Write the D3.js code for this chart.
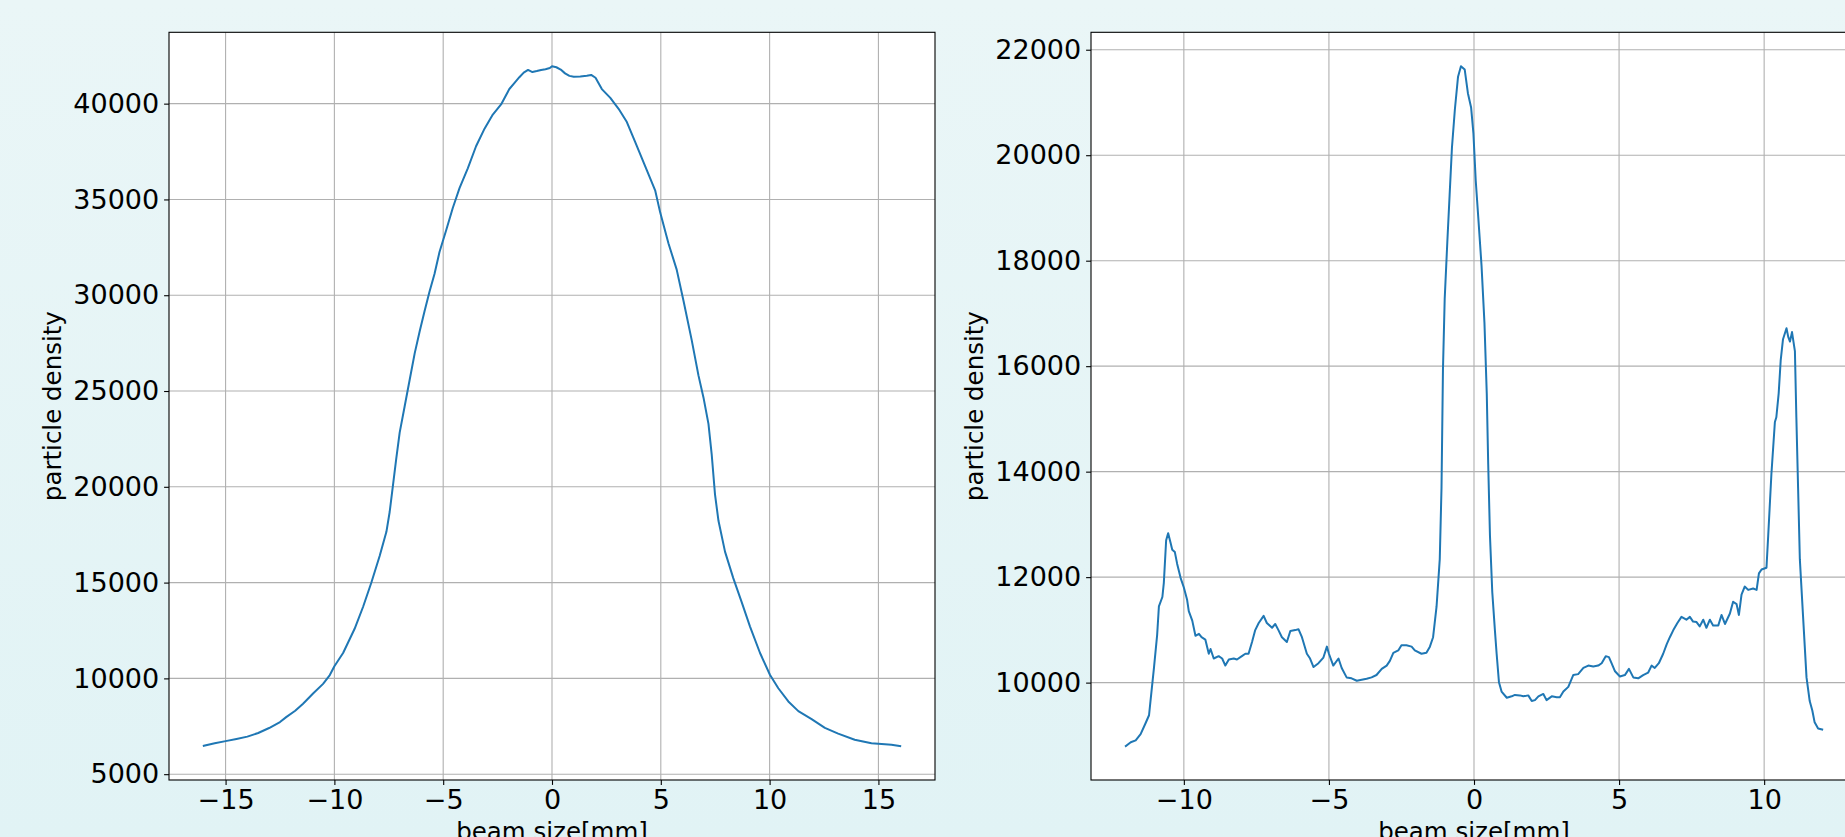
<!DOCTYPE html>
<html>
<head>
<meta charset="utf-8">
<script src="https://cdn.jsdelivr.net/npm/d3@7"></script>
<style>
  html, body { margin: 0; padding: 0; overflow: hidden; }
  svg { display: block; }
  text { font-family: "DejaVu Sans", sans-serif; fill: #000; }
</style>
</head>
<body>
<svg id="chart" width="1845" height="837"></svg>
<script>
// Transverse profile of the beam before shaping (position in mm, particle density)
const gaussX = [-16.0,-15.5,-15.0,-14.5,-14.0,-13.5,-13.0,-12.5,-12.2,-11.8,-11.44,-10.98,-10.52,-10.21,-10.0,-9.6,-9.07,-8.68,-8.3,-7.92,-7.61,-7.46,-7.31,-7.16,-7.0,-6.77,-6.54,-6.31,-6.08,-5.86,-5.63,-5.4,-5.17,-4.86,-4.56,-4.25,-3.87,-3.49,-3.1,-2.72,-2.34,-1.96,-1.75,-1.5,-1.3,-1.1,-0.9,-0.7,-0.5,-0.3,-0.1,0.0,0.2,0.4,0.6,0.8,1.0,1.3,1.6,1.8,2.0,2.29,2.68,3.06,3.44,3.82,4.28,4.74,4.97,5.35,5.73,6.04,6.42,6.73,6.96,7.19,7.34,7.49,7.65,7.95,8.33,8.72,9.1,9.56,10.02,10.4,10.86,11.32,11.93,12.54,13.15,13.91,14.68,15.3,15.6,16.0];
const gaussY = [6480,6610,6725,6840,6960,7150,7410,7720,7990,8310,8680,9210,9715,10175,10635,11325,12590,13740,15005,16385,17650,18685,20065,21445,22825,24205,25585,26965,28115,29150,30185,31105,32255,33405,34555,35590,36625,37775,38695,39430,39960,40765,41050,41380,41620,41760,41650,41700,41760,41800,41860,41950,41900,41780,41580,41450,41400,41420,41460,41500,41350,40759,40300,39730,39040,38005,36740,35475,34325,32715,31335,29725,27655,25815,24665,23285,21675,19605,18225,16615,15235,13970,12705,11325,10175,9485,8795,8290,7875,7415,7116,6794,6610,6560,6540,6470];

// Transverse profile after shaping: central spike with edge peaks
const hollowX = [-12.0,-11.83,-11.66,-11.49,-11.32,-11.2,-11.15,-11.03,-10.92,-10.86,-10.74,-10.69,-10.61,-10.54,-10.46,-10.4,-10.31,-10.23,-10.11,-10.0,-9.89,-9.83,-9.71,-9.6,-9.48,-9.39,-9.26,-9.14,-9.08,-8.97,-8.8,-8.68,-8.57,-8.45,-8.28,-8.17,-8.0,-7.88,-7.77,-7.65,-7.54,-7.42,-7.25,-7.14,-6.96,-6.85,-6.74,-6.62,-6.45,-6.33,-6.16,-6.05,-5.93,-5.76,-5.65,-5.53,-5.36,-5.19,-5.07,-5.0,-4.85,-4.67,-4.56,-4.39,-4.22,-4.04,-3.87,-3.7,-3.53,-3.36,-3.18,-3.01,-2.9,-2.78,-2.61,-2.5,-2.33,-2.15,-2.04,-1.81,-1.64,-1.52,-1.41,-1.29,-1.18,-1.12,-1.07,-1.01,-0.92,-0.84,-0.76,-0.66,-0.55,-0.45,-0.32,-0.21,-0.1,-0.02,0.06,0.15,0.26,0.36,0.44,0.49,0.55,0.63,0.72,0.78,0.86,0.95,1.13,1.3,1.41,1.58,1.7,1.87,1.99,2.1,2.22,2.39,2.5,2.68,2.85,2.96,3.08,3.25,3.42,3.59,3.77,3.94,4.11,4.28,4.4,4.54,4.65,4.74,4.86,5.03,5.2,5.34,5.49,5.66,5.83,6.0,6.12,6.23,6.37,6.52,6.64,6.75,6.87,7.01,7.15,7.32,7.44,7.55,7.67,7.78,7.9,8.01,8.13,8.24,8.42,8.53,8.65,8.82,8.93,9.05,9.13,9.22,9.33,9.45,9.62,9.74,9.82,9.91,10.08,10.14,10.25,10.37,10.42,10.5,10.57,10.65,10.77,10.83,10.89,10.96,11.06,11.11,11.17,11.23,11.34,11.46,11.57,11.66,11.74,11.86,12.0];
const hollowY = [8798,8870,8906,9022,9229,9381,9650,10278,10906,11444,11623,11892,12700,12834,12655,12520,12475,12251,11982,11803,11578,11354,11175,10888,10924,10861,10816,10547,10637,10457,10502,10457,10323,10439,10457,10439,10502,10547,10547,10771,10996,11130,11265,11130,11040,11112,10996,10861,10771,10978,10996,11013,10861,10547,10457,10296,10368,10475,10682,10547,10323,10457,10278,10099,10081,10036,10054,10072,10099,10144,10260,10323,10413,10565,10610,10709,10709,10682,10610,10547,10565,10682,10861,11444,12341,13686,15928,17274,18350,19247,20144,20862,21489,21686,21624,21175,20906,20413,19516,18798,17902,16825,15480,14135,12789,11713,10996,10547,10009,9830,9713,9740,9767,9758,9740,9758,9650,9668,9740,9785,9668,9740,9722,9722,9830,9919,10143,10161,10278,10323,10305,10323,10368,10502,10484,10368,10215,10117,10143,10260,10099,10081,10143,10188,10323,10278,10368,10547,10726,10861,10996,11130,11247,11193,11247,11157,11148,11067,11193,11040,11193,11085,11085,11283,11112,11310,11534,11489,11283,11668,11821,11758,11785,11758,12072,12144,12179,12789,13955,14942,15032,15480,16108,16511,16718,16556,16467,16646,16287,15032,13686,12341,11265,10099,9650,9471,9247,9130,9112];

const gaussXTicks = [-15, -10, -5, 0, 5, 10, 15];
const gaussYTicks = [5000, 10000, 15000, 20000, 25000, 30000, 35000, 40000];
const hollowXTicks = [-10, -5, 0, 5, 10];
const hollowYTicks = [10000, 12000, 14000, 16000, 18000, 20000, 22000];

const xTitle = "beam size[mm]";
const yTitle = "particle density";

const svg = d3.select("#chart");

// figure background: pale cyan wash
const defs = svg.append("defs");
const bg = defs.append("linearGradient").attr("id", "bg").attr("x1", 0).attr("y1", 0).attr("x2", 0).attr("y2", 1);
bg.append("stop").attr("offset", "0%").attr("stop-color", "#eaf6f7");
bg.append("stop").attr("offset", "100%").attr("stop-color", "#e1f3f5");
svg.append("rect").attr("width", 1845).attr("height", 837).attr("fill", "url(#bg)");

const AX_W = 766, AX_H = 747.7, AX_TOP = 32.3;
const TICK_FONT = 27, LABEL_FONT = 24.5;

// matplotlib-style autoscale: data extent with 5 % margins
function padded(arr) {
  const [lo, hi] = d3.extent(arr);
  const m = (hi - lo) * 0.05;
  return [lo - m, hi + m];
}

function panel(left, xs, ys, xTicks, yTicks) {
  const g = svg.append("g").attr("transform", `translate(${left},${AX_TOP})`);
  const x = d3.scaleLinear().domain(padded(xs)).range([0, AX_W]);
  const y = d3.scaleLinear().domain(padded(ys)).range([AX_H, 0]);

  g.append("rect").attr("width", AX_W).attr("height", AX_H).attr("fill", "#fff");

  const clipId = "clip" + left;
  defs.append("clipPath").attr("id", clipId)
    .append("rect").attr("width", AX_W).attr("height", AX_H);

  const grid = g.append("g").attr("clip-path", `url(#${clipId})`);
  grid.selectAll(".gx").data(xTicks).join("line")
    .attr("x1", d => x(d)).attr("x2", d => x(d))
    .attr("y1", 0).attr("y2", AX_H)
    .attr("stroke", "#b0b0b0").attr("stroke-width", 1.1);
  grid.selectAll(".gy").data(yTicks).join("line")
    .attr("x1", 0).attr("x2", AX_W)
    .attr("y1", d => y(d)).attr("y2", d => y(d))
    .attr("stroke", "#b0b0b0").attr("stroke-width", 1.1);

  const pts = xs.map((v, i) => [v, ys[i]]);
  g.append("path")
    .attr("clip-path", `url(#${clipId})`)
    .attr("d", d3.line().x(d => x(d[0])).y(d => y(d[1]))(pts))
    .attr("fill", "none").attr("stroke", "#1f77b4")
    .attr("stroke-width", 2).attr("stroke-linejoin", "round").attr("stroke-linecap", "square");

  const fmt = d3.format("d");
  const xAxis = g.append("g").attr("transform", `translate(0,${AX_H})`)
    .call(d3.axisBottom(x).tickValues(xTicks).tickFormat(fmt).tickSize(4.9).tickPadding(4.9));
  const yAxis = g.append("g")
    .call(d3.axisLeft(y).tickValues(yTicks).tickFormat(fmt).tickSize(4.9).tickPadding(4.9));
  [xAxis, yAxis].forEach(a => {
    a.select(".domain").remove();
    a.selectAll(".tick line").attr("stroke", "#000").attr("stroke-width", 1.1);
    a.selectAll(".tick text").attr("font-size", TICK_FONT).attr("font-family", "DejaVu Sans").attr("fill", "#000");
  });

  g.append("rect").attr("width", AX_W).attr("height", AX_H)
    .attr("fill", "none").attr("stroke", "#000").attr("stroke-width", 1.1);

  g.append("text").attr("x", AX_W / 2).attr("y", AX_H + 60)
    .attr("text-anchor", "middle").attr("font-size", LABEL_FONT).text(xTitle);
  g.append("text")
    .attr("transform", `translate(-108,${AX_H / 2}) rotate(-90)`)
    .attr("text-anchor", "middle").attr("font-size", LABEL_FONT).text(yTitle);
}

panel(169, gaussX, gaussY, gaussXTicks, gaussYTicks);
panel(1091, hollowX, hollowY, hollowXTicks, hollowYTicks);
</script>
</body>
</html>
